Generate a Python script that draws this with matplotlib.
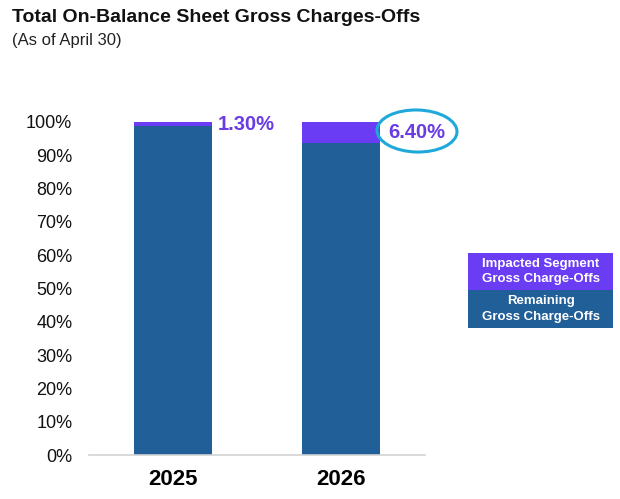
import matplotlib
matplotlib.use("Agg")
import matplotlib.pyplot as plt
from matplotlib.patches import Ellipse, Rectangle
from matplotlib.ticker import PercentFormatter

plt.rcParams['font.family'] = ['Liberation Sans', 'DejaVu Sans']

years = ["2025", "2026"]
impacted = [1.30, 6.40]
remaining = [100 - v for v in impacted]
impacted_labels = ["1.30%", "6.40%"]
yticks = [0, 10, 20, 30, 40, 50, 60, 70, 80, 90, 100]
legend_labels = ["Impacted Segment\nGross Charge-Offs", "Remaining\nGross Charge-Offs"]

c_remaining = "#215F99"
c_impacted = "#6A3CF4"
c_text = "#6A3CE2"
c_circle = "#1FA9DA"

fig = plt.figure(figsize=(6.2, 4.99), dpi=100)
ax = fig.add_axes([89/620, 1 - 455/499, 336/620, 333/499])

x = list(range(len(years)))
w = 0.464
ax.bar(x, remaining, width=w, color=c_remaining, zorder=2)
ax.bar(x, impacted, width=w, bottom=remaining, color=c_impacted, zorder=2)

ax.set_xlim(-0.5, 1.5)
ax.set_ylim(0, 100)
ax.set_yticks(yticks)
ax.yaxis.set_major_formatter(PercentFormatter(decimals=0))
ax.tick_params(axis='y', length=0, labelsize=13, pad=12, labelcolor="#111111")
ax.set_xticks(x)
ax.set_xticklabels(years, fontsize=16, fontweight='bold')
ax.tick_params(axis='x', length=0, pad=10)
for s in ["top", "right", "left"]:
    ax.spines[s].set_visible(False)
ax.spines["bottom"].set_color("#D3D3D3")
ax.spines["bottom"].set_linewidth(1.2)

# value labels
ax.annotate(impacted_labels[0], xy=(x[0] + w/2, 100), xytext=(4, -2),
            textcoords="offset points", ha="left", va="center",
            fontsize=14.5, fontweight="bold", color=c_text, annotation_clip=False)
ax.annotate(impacted_labels[1], xy=(x[1] + w/2, 100 - impacted[1]/2), xytext=(6, 0),
            textcoords="offset points", ha="left", va="center",
            fontsize=14.5, fontweight="bold", color=c_text, annotation_clip=False)

# hand-drawn style circle around 6.40%
ell = Ellipse((417/620, 1 - 131/499), 80/620, 42/499, transform=fig.transFigure,
              fill=False, edgecolor=c_circle, linewidth=2.2, angle=-2)
fig.add_artist(ell)

# titles
fig.text(12/620, 1 - 18/499, "Total On-Balance Sheet Gross Charges-Offs",
         fontsize=14, fontweight="bold", ha="left", va="center", color="#111111")
fig.text(12/620, 1 - 41/499, "(As of April 30)", fontsize=12, ha="left",
         va="center", color="#222222")

# legend boxes
lx0, lx1 = 468/620, 613/620
boxes = [(253, 290, c_impacted), (290, 328, c_remaining)]
for (y0, y1, col), lab in zip(boxes, legend_labels):
    fig.add_artist(Rectangle((lx0, 1 - y1/499), lx1 - lx0, (y1 - y0)/499,
                             transform=fig.transFigure, facecolor=col, edgecolor="none"))
    fig.text((lx0 + lx1)/2, 1 - (y0 + y1)/2/499, lab, ha="center", va="center",
             color="white", fontsize=9.5, fontweight="bold", linespacing=1.4)

fig.savefig("out.png", dpi=100)
